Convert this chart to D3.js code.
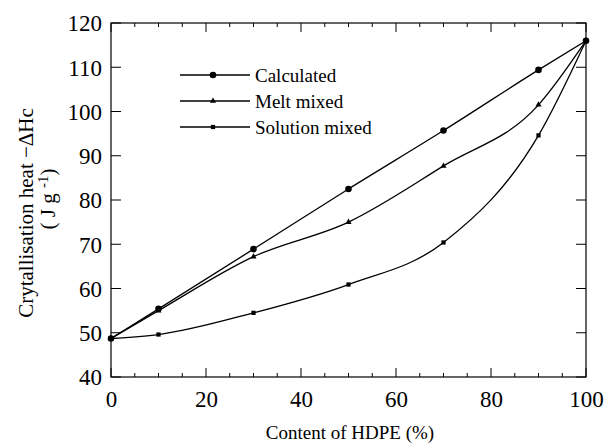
<!DOCTYPE html>
<html><head><meta charset="utf-8">
<script src="https://cdn.jsdelivr.net/npm/d3@7"></script>
<style>body{margin:0;background:#fff}svg{display:block}text{font-family:"Liberation Serif","Tinos","Times New Roman","Nimbus Roman","DejaVu Serif",serif;fill:#000}</style>
</head><body>
<svg id="c" width="605" height="445"></svg>
<script>
const xValues = [0, 10, 30, 50, 70, 90, 100];
const calculated = [48.7, 55.4, 68.9, 82.5, 95.7, 109.4, 116];
const meltMixed = [48.7, 55.0, 67.2, 75.0, 87.7, 101.5, 116];
const solutionMixed = [48.7, 49.6, 54.5, 60.9, 70.4, 94.6, 116];
const seriesNames = ["Calculated", "Melt mixed", "Solution mixed"];
const xTicks = [0, 20, 40, 60, 80, 100];
const yTicks = [40, 50, 60, 70, 80, 90, 100, 110, 120];

const FONT = '"Liberation Serif","Tinos","Times New Roman","Nimbus Roman","DejaVu Serif",serif';
const svg = d3.select("#c");
const L = 111, R = 586, T = 23, B = 377;
const x = d3.scaleLinear().domain([0, 100]).range([L, R]);
const y = d3.scaleLinear().domain([40, 120]).range([B, T]);

const g = svg.append("g");
g.append("rect").attr("x", L).attr("y", T).attr("width", R - L).attr("height", B - T)
  .attr("fill", "none").attr("stroke", "#000").attr("stroke-width", 1.2);

const xMinor = d3.range(0, 101, 5);
xMinor.forEach(v => {
  const major = v % 20 === 0;
  const len = major ? 9 : 4;
  g.append("line").attr("x1", x(v)).attr("x2", x(v)).attr("y1", B).attr("y2", B - len).attr("stroke", "#000").attr("stroke-width", 1);
  g.append("line").attr("x1", x(v)).attr("x2", x(v)).attr("y1", T).attr("y2", T + len).attr("stroke", "#000").attr("stroke-width", 1);
});
const xAxis = d3.axisBottom(x).tickValues(xTicks).tickSize(0).tickPadding(0);
const xg = svg.append("g").attr("transform", `translate(0,${B})`).call(xAxis).attr("font-family", FONT);
xg.select(".domain").remove();
xg.selectAll("text").attr("font-size", 23).attr("y", 30).attr("dy", null);

yTicks.forEach(v => {
  g.append("line").attr("x1", L).attr("x2", L + 10).attr("y1", y(v)).attr("y2", y(v)).attr("stroke", "#000").attr("stroke-width", 1);
  g.append("line").attr("x1", R).attr("x2", R - 10).attr("y1", y(v)).attr("y2", y(v)).attr("stroke", "#000").attr("stroke-width", 1);
});
const yAxis = d3.axisLeft(y).tickValues(yTicks).tickSize(0).tickPadding(9);
const yg = svg.append("g").attr("transform", `translate(${L},0)`).call(yAxis).attr("font-family", FONT);
yg.select(".domain").remove();
yg.selectAll("text").attr("font-size", 23).attr("dy", "0.34em");

svg.append("text").attr("x", 350).attr("y", 439).attr("text-anchor", "middle").attr("font-size", 19).text("Content of HDPE (%)");
svg.append("text").attr("transform", "translate(33,213) rotate(-90)").attr("text-anchor", "middle").attr("font-size", 21).text("Crytallisation heat \u2212\u0394Hc");
const t2 = svg.append("text").attr("transform", "translate(55,199) rotate(-90)").attr("text-anchor", "middle").attr("font-size", 21);
t2.append("tspan").text("( J g ");
t2.append("tspan").attr("dy", -7).attr("font-size", 15).text("-1");
t2.append("tspan").attr("dy", 7).text(")");

const allSeries = [calculated, meltMixed, solutionMixed];
const line = d3.line().x(d => x(d[0])).y(d => y(d[1])).curve(d3.curveMonotoneX);
const sym = [d3.symbolCircle, d3.symbolTriangle, d3.symbolSquare];
const symSize = [34, 16, 18];
allSeries.forEach((s, i) => {
  const pts = xValues.map((xv, j) => [xv, s[j]]);
  svg.append("path").datum(pts).attr("d", line).attr("fill", "none").attr("stroke", "#000").attr("stroke-width", 1.3);
  svg.selectAll(null).data(pts).enter().append("path")
    .attr("transform", d => `translate(${x(d[0])},${y(d[1])})`)
    .attr("d", d3.symbol().type(sym[i]).size(symSize[i]))
    .attr("fill", "#000");
});

const legY = [75, 101, 127];
seriesNames.forEach((n, i) => {
  svg.append("line").attr("x1", 180).attr("x2", 250).attr("y1", legY[i]).attr("y2", legY[i]).attr("stroke", "#000").attr("stroke-width", 1.3);
  svg.append("path").attr("transform", `translate(213,${legY[i]})`).attr("d", d3.symbol().type(sym[i]).size(symSize[i])).attr("fill", "#000");
  svg.append("text").attr("x", 255).attr("y", legY[i]).attr("dy", "0.35em").attr("font-size", 19).text(n);
});
</script>
</body></html>
